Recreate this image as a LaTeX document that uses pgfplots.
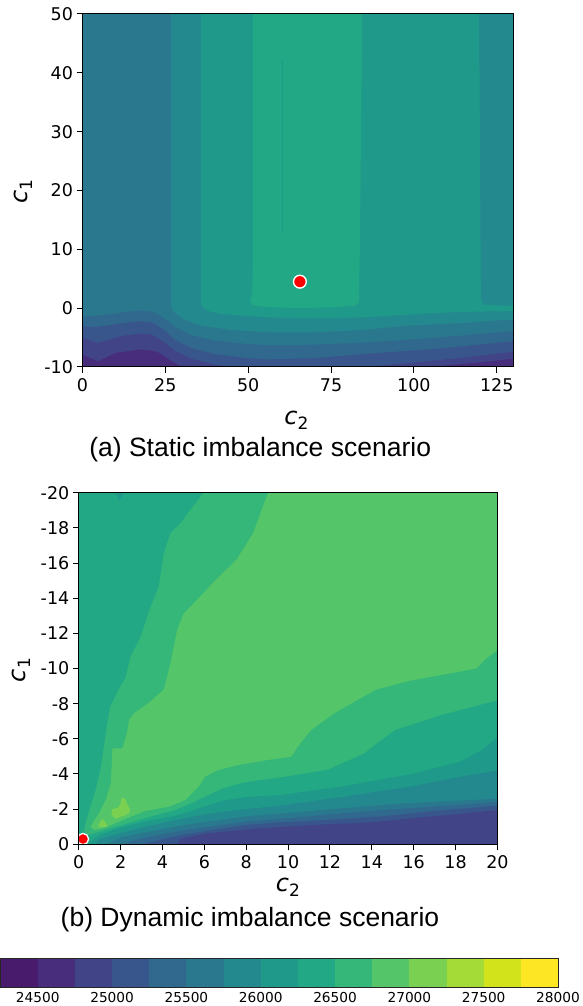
\documentclass[border=0pt]{standalone}
\usepackage{pgfplots}
\pgfplotsset{compat=1.18}
\usepackage{fontspec}
\setmainfont{DejaVu Sans}
\newfontfamily\capfont{Liberation Sans}
\definecolor{b0}{HTML}{481B6D}
\definecolor{b1}{HTML}{472D7B}
\definecolor{b2}{HTML}{414487}
\definecolor{b3}{HTML}{39568C}
\definecolor{b4}{HTML}{31688E}
\definecolor{b5}{HTML}{2A788E}
\definecolor{b6}{HTML}{23898E}
\definecolor{b7}{HTML}{1F998A}
\definecolor{b8}{HTML}{22A884}
\definecolor{b9}{HTML}{35B779}
\definecolor{b10}{HTML}{54C568}
\definecolor{b11}{HTML}{7AD151}
\definecolor{b12}{HTML}{A5DB36}
\definecolor{b13}{HTML}{D2E21B}
\definecolor{b14}{HTML}{FDE725}
\newcommand{\cl}[1]{{\fontsize{24}{24}\selectfont\itshape c}\raisebox{-5pt}{\fontsize{17}{17}\selectfont #1}}
\pgfplotsset{
  myax/.style={scale only axis, set layers, axis on top, clip=false,
    tick align=outside, tick pos=left, major tick length=6pt,
    every tick/.style={black, line width=1pt},
    axis line style={black, line width=1pt},
    tick label style={font=\fontsize{17.5}{20}\selectfont, black},
    xticklabel style={yshift=-2pt},
  },
  rg/.style={fill=#1, draw=none},
}
\begin{document}
\begin{tikzpicture}[x=1pt,y=1pt]
% ---------------- (a) ----------------
\begin{axis}[myax, at={(82.5pt,639pt)}, anchor=south west, width=430.8pt, height=353pt,
  xmin=0, xmax=130, ymin=-10, ymax=50,
  xtick={0,25,50,75,100,125}, xticklabels={0,25,50,75,100,125},
  ytick={-10,0,10,20,30,40,50}, yticklabels={-10,0,10,20,30,40,50}]
\addplot[rg=b1] coordinates {(0,-10) (130,-10) (130,50) (0,50)};
\addplot[rg=b2] coordinates {(0,50) (0,-7.9) (4.8,-9.0) (9.9,-7.6) (17.7,-7.0) (21,-7.2) (23.3,-7.6) (27,-9.0) (30,-10) (105,-10) (112.6,-9.6) (120,-9.2) (130,-8.6) (130,50)};
\addplot[rg=b3] coordinates {(0,50) (0,-5.0) (4.6,-5.9) (8,-5.3) (12,-4.7) (17.6,-4.3) (21,-4.5) (24,-5.5) (28,-7.3) (33,-8.6) (40,-9.6) (45,-10) (86,-10) (97,-9.4) (115,-8.4) (130,-7.4) (130,50)};
\addplot[rg=b4] coordinates {(0,50) (0,-3.1) (4,-3.2) (8,-2.9) (14,-2.4) (17.6,-2.2) (21,-2.4) (24,-3.4) (28,-5.4) (33,-6.8) (40,-7.8) (50,-8.5) (56,-8.7) (70,-8.5) (87,-7.7) (107,-6.9) (130,-5.6) (130,50)};
\addplot[rg=b5] coordinates {(0,50) (0,-1.45) (7.6,-1.1) (14,-0.55) (17.6,-0.4) (21,-0.55) (24,-1.4) (28,-3.2) (33,-4.6) (40,-5.5) (50,-6.1) (56,-6.3) (70,-6.2) (87,-5.8) (107,-5.0) (130,-3.9) (130,50)};
\addplot[rg=b6] coordinates {(26.7,50) (26.7,0.8) (27,0) (28,-0.9) (31,-2.0) (36,-3.0) (45,-3.7) (56,-4.1) (70,-4.1) (85,-3.7) (97,-3.0) (115,-2.5) (130,-1.9) (130,50)};
\addplot[rg=b7] coordinates {(35.7,50) (35.7,1.2) (36,0.3) (38,-0.5) (42,-1.0) (50,-1.35) (56,-1.55) (66,-1.75) (75,-1.75) (87,-1.5) (100,-1.05) (107,-0.8) (118,-0.6) (130,-0.5) (130,0.4) (121,0.6) (120.2,1.5) (119.7,50)};
\addplot[rg=b8] coordinates {(51.5,50) (51.5,10) (51.2,2.5) (50.6,1.2) (51.5,0.5) (55,0.2) (60,0.1) (66,0.0) (75,0.15) (82,0.4) (83.4,1.0) (83.7,10) (84.4,50)};
\addplot[rg=b7] coordinates {(60.3,42.2) (60.5,42.2) (60.5,12.8) (60.3,12.8)};
\addplot[on layer=axis foreground, only marks, mark=*, mark size=6.4pt, mark options={fill=red, draw=white, line width=1.4pt}] coordinates {(65.6,4.5)};
\end{axis}
% ---------------- (b) ----------------
\begin{axis}[myax, at={(78.8pt,161.7pt)}, anchor=south west, width=418.6pt, height=351.6pt,
  xmin=0, xmax=20, ymin=-20, ymax=0, y dir=reverse,
  xtick={0,2,4,6,8,10,12,14,16,18,20}, xticklabels={0,2,4,6,8,10,12,14,16,18,20},
  ytick={-20,-18,-16,-14,-12,-10,-8,-6,-4,-2,0}, yticklabels={-20,-18,-16,-14,-12,-10,-8,-6,-4,-2,0}]
\addplot[rg=b2] coordinates {(0,0) (20,0) (20,-20) (0,-20)};
\addplot[rg=b3] coordinates {(0,-20) (0,0) (4.7,0) (4.9,-0.34) (6.2,-0.63) (8,-0.85) (9.7,-1.0) (12,-1.15) (14,-1.25) (16,-1.5) (18,-1.7) (20,-1.95) (20,-20)};
\addplot[rg=b4] coordinates {(0,-20) (0,0) (3.0,0) (4,-0.3) (5,-0.55) (6.5,-0.85) (8,-1.1) (9.6,-1.25) (12,-1.4) (14.5,-1.6) (17,-1.9) (20,-2.2) (20,-20)};
\addplot[rg=b5] coordinates {(0,-20) (0,0) (2.0,0) (3,-0.35) (5,-0.8) (6.5,-1.05) (8,-1.3) (9.6,-1.45) (12,-1.7) (14.5,-1.95) (17,-2.15) (20,-2.4) (20,-20)};
\addplot[rg=b6] coordinates {(0,-20) (0,0) (1.3,0) (2,-0.4) (3,-0.65) (5,-1.1) (6.5,-1.35) (8,-1.6) (9.6,-1.75) (12,-2.0) (15.1,-2.3) (17.5,-2.45) (20,-2.6) (20,-20)};
\addplot[rg=b7] coordinates {(0,-20) (0,0) (0.8,0) (1,-0.3) (2,-0.65) (3,-0.95) (4.5,-1.35) (5.3,-1.55) (6.5,-1.8) (8,-2.0) (9.6,-2.2) (12.6,-2.7) (15.9,-3.3) (18,-3.8) (20,-4.2) (20,-20)};
\addplot[rg=b8] coordinates {(0,-20) (0,0) (0.45,0) (0.6,-0.2) (1,-0.55) (2,-0.95) (3,-1.25) (4.5,-1.6) (5.5,-1.95) (6.9,-2.5) (8.1,-2.7) (9.6,-2.8) (12.6,-3.3) (15.9,-4.0) (18.2,-4.7) (19.3,-5.4) (20,-6.1) (20,-20)};
\addplot[rg=b7] coordinates {(1.75,-20) (2.15,-20) (1.95,-19.55)};
\addplot[rg=b9] coordinates {(5.96,-20) (4.85,-18.26) (4.38,-17.7) (4.06,-16.55) (3.82,-14.65) (3.43,-13.5) (2.95,-11.8) (2.48,-10.7) (2.24,-9.5) (1.9,-8.8) (1.5,-7.8) (1.35,-6.8) (1.29,-6.3) (1.06,-4.4) (0.81,-3.1) (0.57,-2.2) (0.35,-1.3) (0.25,-0.8) (0.35,-0.5) (0.9,-0.68) (1.5,-0.9) (2.5,-1.25) (3.5,-1.6) (4.6,-1.95) (5.4,-2.35) (6.0,-2.7) (6.9,-3.2) (8,-3.55) (9.6,-3.8) (11.9,-4.25) (13.6,-5.15) (14.3,-5.8) (15.1,-6.5) (17.3,-7.35) (19.7,-8.1) (20,-8.2) (20,-20)};
\addplot[rg=b10] coordinates {(9.04,-20) (8.33,-17.7) (7.54,-16.2) (6.43,-14.9) (6.12,-14.5) (5.0,-13.1) (4.7,-12.2) (4.38,-10.3) (4.06,-8.8) (3.4,-8.1) (2.64,-7.45) (2.4,-7.07) (2.3,-6.3) (2.08,-5.46) (1.61,-5.46) (1.53,-3.47) (1.29,-2.53) (0.97,-1.77) (0.55,-1.0) (0.75,-0.82) (1.2,-0.92) (2.24,-1.45) (3.19,-1.9) (4.3,-2.14) (5.09,-2.52) (5.72,-3.28) (6.04,-3.85) (6.67,-4.23) (7.62,-4.51) (9.04,-4.8) (10.15,-4.98) (10.46,-5.55) (11.1,-6.5) (12.2,-7.45) (13.3,-8.2) (14.2,-8.8) (15.8,-9.3) (19.0,-10.0) (19.4,-10.5) (20,-11.05) (20,-20)};
\addplot[rg=b11] coordinates {(2.05,-2.65) (2.25,-2.55) (2.3,-2.3) (2.45,-2.0) (2.4,-1.75) (2.1,-1.6) (1.75,-1.45) (1.55,-1.7) (1.6,-2.0) (1.9,-2.1) (2.0,-2.35)};
\addplot[rg=b11] coordinates {(1.12,-1.45) (1.3,-1.2) (1.38,-1.0) (1.0,-0.97) (0.93,-1.1)};
\addplot[on layer=axis foreground, only marks, mark=*, mark size=5.6pt, mark options={fill=red, draw=white, line width=1.3pt}] coordinates {(0.2,-0.3)};
\end{axis}
% ---------------- colour bar ----------------
\begin{axis}[scale only axis, axis on top, at={(0.6pt,19pt)}, anchor=south west, width=557.4pt, height=29pt,
  xmin=24250, xmax=28000, ymin=0, ymax=1, ytick=\empty, scaled x ticks=false,
  xtick={24500,25000,25500,26000,26500,27000,27500,28000},
  xticklabels={24500,25000,25500,26000,26500,27000,27500,28000},
  major tick length=0pt, tick label style={font=\fontsize{13.7}{16}\selectfont, black},
  xticklabel style={yshift=-1.5pt},
  axis line style={line width=0.9pt, black!85}]
\addplot[rg=b0] coordinates {(24250,0) (24500,0) (24500,1) (24250,1)};
\addplot[rg=b1] coordinates {(24500,0) (24750,0) (24750,1) (24500,1)};
\addplot[rg=b2] coordinates {(24750,0) (25000,0) (25000,1) (24750,1)};
\addplot[rg=b3] coordinates {(25000,0) (25250,0) (25250,1) (25000,1)};
\addplot[rg=b4] coordinates {(25250,0) (25500,0) (25500,1) (25250,1)};
\addplot[rg=b5] coordinates {(25500,0) (25750,0) (25750,1) (25500,1)};
\addplot[rg=b6] coordinates {(25750,0) (26000,0) (26000,1) (25750,1)};
\addplot[rg=b7] coordinates {(26000,0) (26250,0) (26250,1) (26000,1)};
\addplot[rg=b8] coordinates {(26250,0) (26500,0) (26500,1) (26250,1)};
\addplot[rg=b9] coordinates {(26500,0) (26750,0) (26750,1) (26500,1)};
\addplot[rg=b10] coordinates {(26750,0) (27000,0) (27000,1) (26750,1)};
\addplot[rg=b11] coordinates {(27000,0) (27250,0) (27250,1) (27000,1)};
\addplot[rg=b12] coordinates {(27250,0) (27500,0) (27500,1) (27250,1)};
\addplot[rg=b13] coordinates {(27500,0) (27750,0) (27750,1) (27500,1)};
\addplot[rg=b14] coordinates {(27750,0) (28000,0) (28000,1) (27750,1)};
\end{axis}
% ---------------- labels and captions ----------------
\node[rotate=90, anchor=base] at (27,814) {\cl{1}};
\node[anchor=base] at (296.5,581) {\cl{2}};
\node[anchor=base] at (260.2,549.5) {\capfont\fontsize{26.5}{30}\selectfont (a) Static imbalance scenario};
\node[rotate=90, anchor=base] at (25,336) {\cl{1}};
\node[anchor=base] at (288,114.5) {\cl{2}};
\node[anchor=base] at (250,79) {\capfont\fontsize{26.5}{30}\selectfont (b) Dynamic imbalance scenario};
\pgfresetboundingbox
\path[use as bounding box] (0,0) rectangle (583,1006);
\end{tikzpicture}
\end{document}
